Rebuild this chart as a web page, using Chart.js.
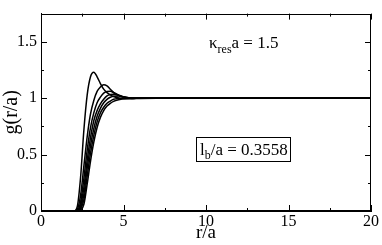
<!DOCTYPE html>
<html>
<head>
<meta charset="utf-8">
<script src="https://cdn.jsdelivr.net/npm/chart.js@4"></script>
<style>
html,body{margin:0;padding:0;background:#fff;}
#wrap{width:382px;height:245px;}
</style>
</head>
<body>
<div id="wrap"><canvas id="c" width="382" height="245"></canvas></div>
<script>
// r/a sample positions
const rVals = [0, 1.8, 2.0, 2.2, 2.4, 2.6, 2.8, 3.0, 3.2, 3.4, 3.6, 3.8, 4.0, 4.2, 4.4, 4.7, 5.0, 5.5, 6.0, 7.0, 8.0, 10, 20];
// g(r/a) curves
const g1 = [0, 0, 0, 0.04, 0.30, 0.72, 1.03, 1.19, 1.23, 1.19, 1.13, 1.08, 1.05, 1.03, 1.015, 1.003, 0.996, 0.995, 0.998, 1, 1, 1, 1];
const g2 = [0, 0, 0, 0.015, 0.14, 0.40, 0.66, 0.86, 0.98, 1.06, 1.10, 1.12, 1.11, 1.08, 1.05, 1.025, 1.008, 0.998, 1, 1, 1, 1, 1];
const g3 = [0, 0, 0, 0.005, 0.08, 0.29, 0.54, 0.74, 0.87, 0.96, 1.01, 1.045, 1.06, 1.062, 1.05, 1.03, 1.012, 1.0, 1, 1, 1, 1, 1];
const g4 = [0, 0, 0, 0, 0.05, 0.21, 0.45, 0.65, 0.80, 0.89, 0.95, 0.99, 1.02, 1.033, 1.036, 1.025, 1.012, 1.0, 1, 1, 1, 1, 1];
const g5 = [0, 0, 0, 0, 0.03, 0.15, 0.38, 0.58, 0.73, 0.84, 0.91, 0.96, 0.99, 1.008, 1.018, 1.02, 1.012, 1.002, 1, 1, 1, 1, 1];
const g6 = [0, 0, 0, 0, 0.02, 0.10, 0.31, 0.51, 0.67, 0.79, 0.87, 0.92, 0.955, 0.975, 0.99, 0.998, 1.0, 1.0, 1, 1, 1, 1, 1];
const g7 = [0, 0, 0, 0, 0.01, 0.06, 0.24, 0.44, 0.61, 0.74, 0.83, 0.89, 0.93, 0.955, 0.972, 0.986, 0.994, 0.999, 1, 1, 1, 1, 1];
const curves = [g1, g2, g3, g4, g5, g6, g7];
const xTickLabels = ["0", "5", "10", "15", "20"];
const yTickLabels = ["0", "0.5", "1", "1.5"];

const FONT = "'Liberation Serif','Times New Roman',serif";

const datasets = curves.map(g => ({
  data: rVals.map((r, i) => ({x: r, y: g[i]})),
  borderColor: '#000',
  borderWidth: 1.5,
  pointRadius: 0,
  fill: false,
  cubicInterpolationMode: 'monotone'
}));

const frameTicks = {
  id: 'frameTicks',
  afterDraw(chart) {
    const ctx = chart.ctx, a = chart.chartArea;
    const xs = chart.scales.x, ys = chart.scales.y;
    ctx.save();
    ctx.strokeStyle = '#000';
    ctx.lineWidth = 1;
    ctx.strokeRect(Math.round(a.left) + 0.5, Math.round(a.top) + 0.5, Math.round(a.right - a.left) - 1, Math.round(a.bottom - a.top) - 1);
    ctx.beginPath();
    for (let v = 0; v <= 20.001; v += 2.5) {
      const px = Math.round(xs.getPixelForValue(v)) + 0.5;
      const len = (Math.abs(v % 5) < 1e-6) ? 6 : 3;
      ctx.moveTo(px, a.bottom); ctx.lineTo(px, a.bottom - len);
      ctx.moveTo(px, a.top); ctx.lineTo(px, a.top + len);
    }
    for (let v = 0; v <= 1.75001; v += 0.25) {
      const py = Math.round(ys.getPixelForValue(v)) + 0.5;
      const len = (Math.abs((v * 2) % 1) < 1e-6) ? 6 : 3;
      ctx.moveTo(a.left, py); ctx.lineTo(a.left + len, py);
      ctx.moveTo(a.right, py); ctx.lineTo(a.right - len, py);
    }
    ctx.stroke();

    // annotations
    ctx.fillStyle = '#000';
    ctx.textBaseline = 'alphabetic';
    ctx.textAlign = 'left';
    let x = 209;
    ctx.font = '17px ' + FONT;
    ctx.fillText('κ', x, 48);
    x += ctx.measureText('κ').width;
    ctx.font = '12px ' + FONT;
    ctx.fillText('res', x, 53);
    x += ctx.measureText('res').width;
    ctx.font = '17px ' + FONT;
    ctx.fillText('a = 1.5', x, 48);

    // boxed label
    ctx.strokeRect(196.5, 137.5, 94, 24);
    x = 200;
    ctx.font = '17px ' + FONT;
    ctx.fillText('l', x, 155);
    x += ctx.measureText('l').width;
    ctx.font = '12px ' + FONT;
    ctx.fillText('b', x, 159);
    x += ctx.measureText('b').width;
    ctx.font = '17px ' + FONT;
    ctx.fillText('/a = 0.3558', x, 155);
    ctx.restore();
  }
};

new Chart(document.getElementById('c'), {
  type: 'line',
  data: {datasets},
  options: {
    responsive: false,
    animation: false,
    layout: {padding: {top: 2, right: 11, left: 0, bottom: 0}},
    plugins: {legend: {display: false}, tooltip: {enabled: false}},
    scales: {
      x: {
        type: 'linear', min: 0, max: 20,
        afterFit: s => { s.height = 34; },
        grid: {display: false, drawTicks: false},
        border: {display: true, color: '#000'},
        ticks: {
          stepSize: 5, padding: 1, color: '#000', font: {family: FONT, size: 16},
          maxRotation: 0,
          callback: (v) => { const i = xTickLabels.indexOf(String(v)); return i >= 0 ? xTickLabels[i] : ''; }
        },
        title: {display: true, text: 'r/a', color: '#000', font: {family: FONT, size: 19}, padding: {top: 0, bottom: 1}}
      },
      y: {
        type: 'linear', min: 0, max: 1.75,
        afterFit: s => { s.width = 41; },
        grid: {display: false, drawTicks: false},
        border: {display: true, color: '#000'},
        ticks: {
          stepSize: 0.5, includeBounds: false, padding: 4, color: '#000', font: {family: FONT, size: 16},
          callback: (v) => { const i = yTickLabels.indexOf(String(v)); return i >= 0 ? yTickLabels[i] : ''; }
        },
        title: {display: true, text: 'g(r/a)', color: '#000', font: {family: FONT, size: 20}, padding: {top: 0, bottom: 0}}
      }
    }
  },
  plugins: [frameTicks]
});
</script>
</body>
</html>
